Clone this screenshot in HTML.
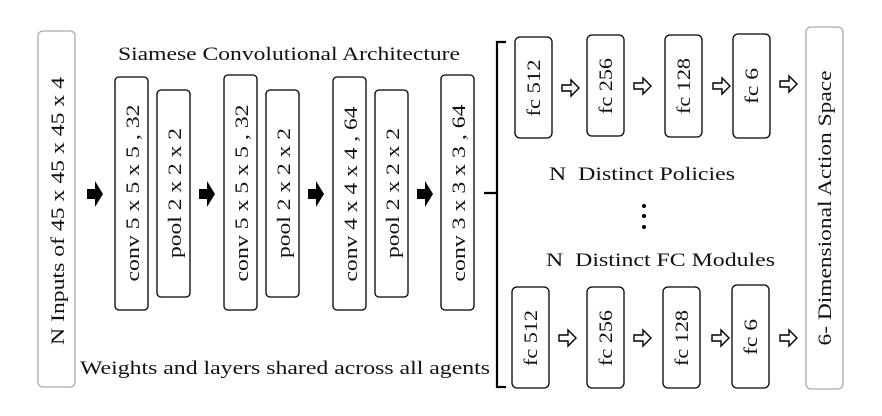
<!DOCTYPE html>
<html><head><style>body{margin:0;background:#fff}</style></head><body>
<svg width="882" height="411" viewBox="0 0 882 411" xmlns="http://www.w3.org/2000/svg" font-family="Liberation Serif, serif" font-size="19" fill="#111">
<defs>
<g id="ba"><path d="M0,-5 H8 V-13 L16,0 L8,13 V5 H0 Z" fill="#000"/></g>
<g id="ha"><path d="M0,-3 H9 V-8 L17,0 L9,8 V3 H0 Z" fill="#fff" stroke="#000" stroke-width="1.4"/></g>
</defs>
<g fill="none" stroke="#aaa" stroke-width="1.3">
<rect x="38" y="31" width="37" height="356" rx="5"/>
<rect x="806" y="27" width="37" height="362" rx="5"/>
</g>
<g fill="none" stroke="#000" stroke-width="1.3">
<rect x="115" y="77" width="33" height="233" rx="4"/>
<rect x="157" y="90" width="33" height="207" rx="4"/>
<rect x="224" y="75" width="33" height="235" rx="4"/>
<rect x="266" y="90" width="33" height="207" rx="4"/>
<rect x="333" y="77" width="33" height="233" rx="4"/>
<rect x="375" y="90" width="33" height="207" rx="4"/>
<rect x="441" y="75" width="33" height="235" rx="4"/>
<rect x="515" y="37" width="37" height="101" rx="5"/>
<rect x="587" y="35" width="37" height="101" rx="5"/>
<rect x="665" y="35" width="37" height="102" rx="5"/>
<rect x="733" y="34" width="37" height="104" rx="5"/>
<rect x="512" y="287" width="37" height="101" rx="5"/>
<rect x="587" y="287" width="37" height="101" rx="5"/>
<rect x="663" y="287" width="37" height="101" rx="5"/>
<rect x="732" y="285" width="37" height="103" rx="5"/>
<path d="M506,42 H497 V193 H484 M497,193 V387 H506" stroke-width="2.2"/>
</g>
<use href="#ba" x="87" y="194"/><use href="#ba" x="199" y="194"/><use href="#ba" x="308" y="194"/><use href="#ba" x="417" y="194"/>
<use href="#ha" x="562" y="88"/><use href="#ha" x="634" y="86"/><use href="#ha" x="713" y="86"/><use href="#ha" x="780" y="84"/>
<use href="#ha" x="559" y="338"/><use href="#ha" x="634" y="338"/><use href="#ha" x="712" y="338"/><use href="#ha" x="780" y="338"/>
<g lengthAdjust="spacingAndGlyphs">
<text x="118" y="60" textLength="342" lengthAdjust="spacingAndGlyphs">Siamese Convolutional Architecture</text>
<text x="80" y="374" textLength="410" lengthAdjust="spacingAndGlyphs">Weights and layers shared across all agents</text>
<text x="549" y="180" textLength="186" lengthAdjust="spacingAndGlyphs" xml:space="preserve">N  Distinct Policies</text>
<text x="546" y="266" textLength="229" lengthAdjust="spacingAndGlyphs" xml:space="preserve">N  Distinct FC Modules</text>
</g>
<circle cx="644" cy="206" r="2" fill="#000"/><circle cx="644" cy="216" r="2" fill="#000"/><circle cx="644" cy="227" r="2" fill="#000"/>
<g text-anchor="middle">
<text transform="translate(64,211) rotate(-90)" textLength="268" lengthAdjust="spacingAndGlyphs">N Inputs of 45 x 45 x 45 x 4</text>
<text transform="translate(139,193) rotate(-90)" textLength="177" lengthAdjust="spacingAndGlyphs">conv 5 x 5 x 5 , 32</text>
<text transform="translate(181,193) rotate(-90)" textLength="130" lengthAdjust="spacingAndGlyphs">pool 2 x 2 x 2</text>
<text transform="translate(248,193) rotate(-90)" textLength="177" lengthAdjust="spacingAndGlyphs">conv 5 x 5 x 5 , 32</text>
<text transform="translate(290,193) rotate(-90)" textLength="130" lengthAdjust="spacingAndGlyphs">pool 2 x 2 x 2</text>
<text transform="translate(357,194) rotate(-90)" textLength="175" lengthAdjust="spacingAndGlyphs">conv 4 x 4 x 4 , 64</text>
<text transform="translate(399,193) rotate(-90)" textLength="130" lengthAdjust="spacingAndGlyphs">pool 2 x 2 x 2</text>
<text transform="translate(465,193) rotate(-90)" textLength="177" lengthAdjust="spacingAndGlyphs">conv 3 x 3 x 3 , 64</text>
<text transform="translate(540,88) rotate(-90)" textLength="57" lengthAdjust="spacingAndGlyphs">fc 512</text>
<text transform="translate(612,86) rotate(-90)" textLength="56" lengthAdjust="spacingAndGlyphs">fc 256</text>
<text transform="translate(690,86) rotate(-90)" textLength="56" lengthAdjust="spacingAndGlyphs">fc 128</text>
<text transform="translate(758,86) rotate(-90)" textLength="36" lengthAdjust="spacingAndGlyphs">fc 6</text>
<text transform="translate(537,338) rotate(-90)" textLength="56" lengthAdjust="spacingAndGlyphs">fc 512</text>
<text transform="translate(612,338) rotate(-90)" textLength="56" lengthAdjust="spacingAndGlyphs">fc 256</text>
<text transform="translate(688,338) rotate(-90)" textLength="56" lengthAdjust="spacingAndGlyphs">fc 128</text>
<text transform="translate(757,337) rotate(-90)" textLength="36" lengthAdjust="spacingAndGlyphs">fc 6</text>
<text transform="translate(831,208) rotate(-90)" textLength="275" lengthAdjust="spacingAndGlyphs">6- Dimensional Action Space</text>
</g>
</svg>
</body></html>
